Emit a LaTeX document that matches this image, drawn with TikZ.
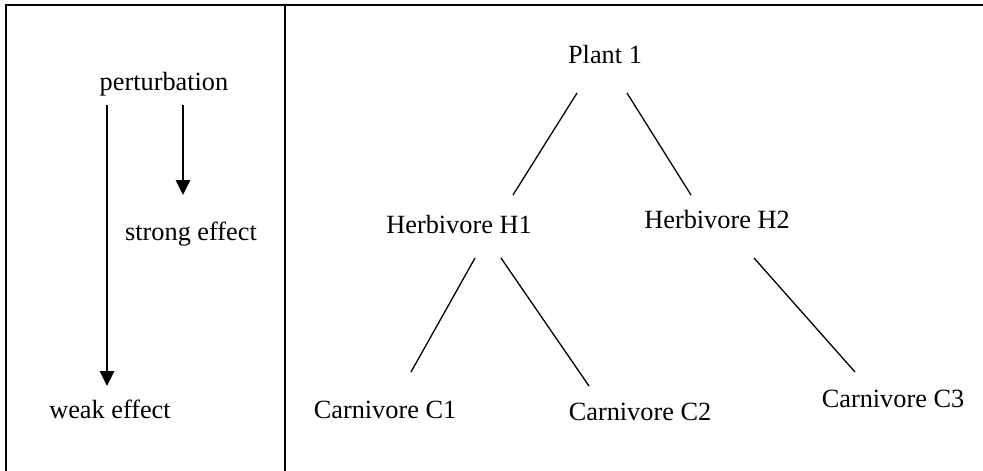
\documentclass[tikz,border=0pt]{standalone}
\usepackage{fontspec}
\setmainfont{Liberation Serif}
\usetikzlibrary{arrows.meta}
\begin{document}
\begin{tikzpicture}[x=1pt,y=-1pt,
  lbl/.style={inner sep=0pt,anchor=base,font=\fontsize{26.3}{30}\selectfont},
  frameline/.style={line width=2pt,line cap=rect},
  link/.style={line width=1.3pt},
  effarrow/.style={line width=2.8pt,-{Triangle[width=14pt,length=15pt]}}]
\useasboundingbox (0,0) rectangle (983,471);
% frame
\coordinate (tl) at (6,5);
\coordinate (tr) at (983,5);
\coordinate (bl) at (6,471);
\coordinate (dt) at (285,5);
\coordinate (db) at (285,471);
\draw[frameline] (bl) -- (tl) -- (tr);
\draw[frameline] (dt) -- (db);
% left panel
\node[lbl] (pert) at (164,90) {perturbation};
\node[lbl] (strong) at (191,240) {strong effect};
\node[lbl] (weak) at (110,418) {weak effect};
\coordinate (wa) at (107,105);
\coordinate (wb) at (107,386);
\coordinate (sa) at (183,105);
\coordinate (sb) at (183,195);
\draw[effarrow] (wa) -- (wb);
\draw[effarrow] (sa) -- (sb);
% tree
\node[lbl] (p1) at (605,63) {Plant 1};
\node[lbl] (h1) at (459,233) {Herbivore H1};
\node[lbl] (h2) at (717,228) {Herbivore H2};
\node[lbl] (c1) at (385,418) {Carnivore C1};
\node[lbl] (c2) at (640,420) {Carnivore C2};
\node[lbl] (c3) at (893,407) {Carnivore C3};
\coordinate (p1a) at (577,93);
\coordinate (h1t) at (513,195);
\coordinate (p1b) at (627,93);
\coordinate (h2t) at (691,195);
\coordinate (h1a) at (475,258);
\coordinate (c1t) at (411,372);
\coordinate (h1b) at (501,258);
\coordinate (c2t) at (589,386);
\coordinate (h2a) at (754,258);
\coordinate (c3t) at (855,372);
\draw[link] (p1a) -- (h1t);
\draw[link] (p1b) -- (h2t);
\draw[link] (h1a) -- (c1t);
\draw[link] (h1b) -- (c2t);
\draw[link] (h2a) -- (c3t);
\end{tikzpicture}
\end{document}
